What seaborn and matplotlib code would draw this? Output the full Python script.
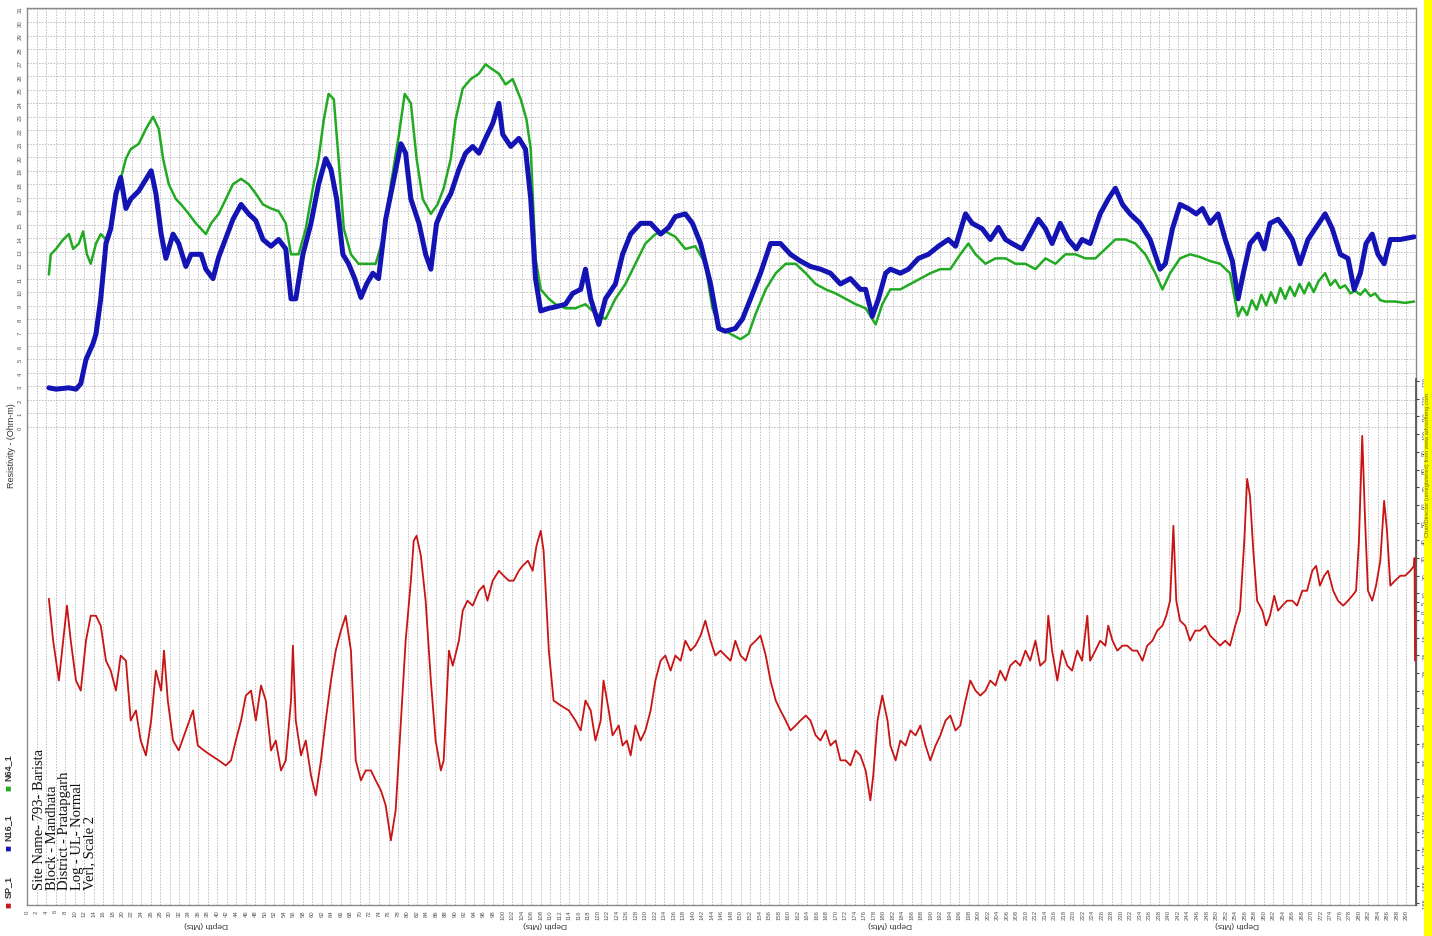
import matplotlib
matplotlib.use("Agg")
import matplotlib.pyplot as plt
from matplotlib.patches import Rectangle
import seaborn as sns
import pandas as pd

# ---------------- data ----------------
depth_n16 = [4.6, 6.1, 8.8, 10.3, 11.3, 12.4, 13.9, 14.5, 15.5, 16.6, 17.6, 18.7, 19.7, 20.8, 21.8, 23.5,
             26.1, 27.1, 28.2, 29.2, 30.7, 31.9, 33.4, 34.5, 36.6, 37.6, 39.1, 40.3, 41.8, 43.3, 45.0, 46.6,
             48.1, 49.6, 51.3, 52.9, 54.4, 55.5, 56.5, 58.0, 59.7, 61.3, 62.8, 63.9, 65.1, 66.4, 67.6, 68.9,
             70.2, 71.4, 72.7, 73.9, 75.4, 76.9, 78.6, 79.6, 80.7, 82.4, 83.8, 84.9, 86.1, 87.4, 89.1, 90.8,
             92.2, 93.7, 95.0, 96.4, 97.9, 99.2, 100.0, 101.7, 103.4, 104.8, 105.9, 106.9, 108.0, 109.7,
             111.1, 113.2, 114.7, 116.4, 117.4, 118.5, 120.2, 121.6, 123.7, 125.2, 126.9, 129.0, 131.1,
             133.2, 134.9, 136.3, 138.4, 139.9, 141.6, 143.7, 145.4, 146.8, 148.9, 150.4, 152.1, 154.2,
             156.3, 158.4, 160.5, 162.6, 164.7, 166.8, 168.9, 171.0, 173.1, 175.2, 176.3, 177.7, 179.0,
             180.5, 181.5, 183.6, 185.3, 187.4, 189.5, 191.6, 193.7, 195.2, 197.3, 198.7, 200.8, 202.5,
             204.2, 205.7, 207.1, 209.2, 210.9, 212.6, 214.1, 215.5, 217.2, 218.9, 220.6, 221.8, 223.5,
             225.6, 227.3, 228.8, 230.3, 231.9, 234.0, 236.1, 238.2, 239.3, 240.8, 242.4, 244.1, 245.8,
             247.1, 248.7, 250.4, 251.9, 253.4, 254.6, 255.7, 257.1, 258.8, 260.1, 261.3, 263.0, 264.5,
             266.0, 267.6, 269.3, 270.8, 272.9, 274.4, 276.1, 277.7, 279.0, 280.3, 281.5, 282.8, 284.0,
             285.3, 286.6, 288.7, 291.6]
res_n16 = [2.9, 2.8, 2.9, 2.8, 3.2, 5.0, 6.2, 6.9, 9.5, 13.6, 14.7, 17.3, 18.5, 16.2, 16.9, 17.5,
           19.0, 17.3, 14.3, 12.5, 14.3, 13.6, 11.9, 12.8, 12.8, 11.7, 11.0, 12.6, 14.0, 15.4, 16.5, 15.8,
           15.3, 13.9, 13.4, 13.9, 13.2, 9.5, 9.5, 12.8, 15.1, 18.0, 19.9, 19.1, 16.9, 12.8, 12.1, 11.0,
           9.6, 10.6, 11.4, 11.0, 15.4, 18.0, 21.0, 20.3, 16.9, 15.1, 12.8, 11.7, 15.1, 16.2, 17.3, 19.1,
           20.3, 20.8, 20.3, 21.4, 22.5, 24.0, 21.7, 20.8, 21.4, 20.6, 16.9, 11.0, 8.6, 8.8,
           8.9, 9.1, 9.9, 10.2, 11.7, 9.5, 7.6, 9.5, 10.6, 12.8, 14.3, 15.1, 15.1,
           14.3, 14.8, 15.6, 15.8, 15.1, 13.6, 10.6, 7.3, 7.1, 7.3, 8.0, 9.5, 11.4,
           13.6, 13.6, 12.8, 12.3, 11.9, 11.7, 11.4, 10.6, 11.0, 10.2, 10.2, 8.2, 9.5,
           11.4, 11.7, 11.4, 11.7, 12.5, 12.8, 13.4, 13.9, 13.4, 15.8, 15.1, 14.7, 13.9,
           14.8, 13.9, 13.6, 13.2, 14.3, 15.4, 14.7, 13.6, 15.1, 13.9, 13.2, 13.9, 13.6,
           15.8, 16.9, 17.7, 16.5, 15.8, 15.1, 13.9, 11.7, 12.1, 14.7, 16.5, 16.2, 15.8,
           16.2, 15.1, 15.8, 13.9, 12.3, 9.5, 11.4, 13.6, 14.3, 13.2, 15.1, 15.4, 14.7,
           13.9, 12.1, 13.9, 14.7, 15.8, 14.7, 12.8, 12.5, 10.2, 11.4, 13.6, 14.3, 12.8,
           12.1, 13.9, 13.9, 14.1]

depth_n64 = [4.6, 5.0, 6.1, 7.6, 8.8, 9.7, 10.9, 11.8, 12.6, 13.4, 14.5, 15.5, 16.6, 17.6, 18.7, 19.7,
             20.8, 21.8, 23.5, 25.0, 26.5, 27.7, 28.6, 29.8, 31.3, 32.4, 34.0, 35.5, 37.6, 38.7, 40.3,
             41.8, 43.3, 45.0, 46.6, 48.1, 49.6, 51.3, 52.9, 54.4, 55.5, 57.1, 58.6, 60.1, 61.3, 62.4,
             63.4, 64.5, 65.5, 66.6, 68.1, 69.7, 71.4, 73.3, 74.8, 76.5, 78.2, 79.4, 80.7, 81.9, 83.2,
             84.9, 86.3, 87.6, 89.1, 90.1, 91.6, 93.3, 95.0, 96.4, 97.5, 99.2, 100.6, 102.1, 103.8,
             105.0, 105.9, 106.9, 108.0, 109.7, 111.1, 113.2, 115.3, 117.4, 119.5, 121.6, 123.7, 125.8,
             127.9, 130.0, 132.1, 134.2, 136.3, 138.4, 140.5, 142.6, 144.1, 145.8, 147.9, 150.0, 151.7,
             153.2, 155.3, 157.4, 159.5, 161.6, 163.7, 165.8, 167.9, 170.0, 172.1, 174.2, 176.3, 178.4,
             179.8, 181.5, 183.6, 185.7, 187.8, 189.9, 192.0, 194.1, 196.2, 197.9, 199.4, 201.5, 203.6,
             205.7, 207.8, 209.9, 212.0, 214.1, 216.2, 218.3, 220.4, 222.5, 224.6, 226.7, 228.8, 230.9,
             233.0, 235.1, 237.2, 238.7, 240.3, 242.4, 244.5, 246.6, 248.7, 250.8, 252.9, 254.6, 255.5,
             256.5, 257.5, 258.5, 259.5, 260.5, 261.5, 262.5, 263.5, 264.5, 265.5, 266.5, 267.5, 268.5,
             269.5, 270.5, 271.5, 272.9, 274.0, 275.0, 276.0, 277.1, 278.2, 279.2, 280.3, 281.3, 282.4,
             283.4, 284.5, 285.5, 287.6, 289.7, 291.6]
res_n64 = [11.3, 12.8, 13.2, 13.9, 14.3, 13.2, 13.6, 14.5, 12.8, 12.1, 13.6, 14.3, 13.9, 14.8, 16.9, 18.4,
           19.9, 20.6, 21.0, 22.1, 23.0, 22.1, 19.9, 18.0, 16.9, 16.5, 15.8, 15.1, 14.3, 15.1, 15.8,
           16.9, 18.0, 18.4, 18.0, 17.3, 16.5, 16.2, 16.0, 15.1, 12.8, 12.8, 14.7, 17.7, 19.9, 22.8,
           24.7, 24.3, 19.9, 14.7, 12.8, 12.1, 12.1, 12.1, 13.9, 18.0, 21.7, 24.7, 24.0, 19.9, 16.9,
           15.8, 16.5, 17.7, 19.9, 22.8, 25.1, 25.8, 26.2, 26.9, 26.6, 26.2, 25.4, 25.8, 24.3,
           22.8, 20.6, 12.5, 10.2, 9.5, 9.1, 8.8, 8.8, 9.1, 8.4, 8.0, 9.5, 10.6,
           12.1, 13.6, 14.3, 14.5, 14.1, 13.2, 13.4, 12.1, 8.8, 7.3, 6.9, 6.5, 6.9,
           8.4, 10.2, 11.4, 12.1, 12.1, 11.4, 10.6, 10.2, 9.9, 9.5, 9.1, 8.8, 7.6,
           9.1, 10.2, 10.2, 10.6, 11.0, 11.4, 11.7, 11.7, 12.8, 13.6, 12.8, 12.1, 12.5,
           12.5, 12.1, 12.1, 11.7, 12.5, 12.1, 12.8, 12.8, 12.5, 12.5, 13.2, 13.9, 13.9,
           13.6, 12.8, 11.4, 10.2, 11.4, 12.5, 12.8, 12.6, 12.3, 12.1, 11.4, 8.2, 8.9,
           8.3, 9.4, 8.7, 9.8, 9.0, 10.0, 9.2, 10.3, 9.5, 10.4, 9.7, 10.6, 9.9,
           10.7, 10.0, 10.8, 11.4, 10.5, 10.9, 10.3, 10.5, 9.9, 10.1, 9.8, 10.2, 9.7,
           9.9, 9.4, 9.3, 9.3, 9.2, 9.3]

depth_sp = [4.6, 5.5, 6.7, 7.6, 8.4, 9.2, 10.3, 11.3, 12.4, 13.4, 14.5, 15.5, 16.6, 17.6, 18.7, 19.7,
            20.8, 21.8, 22.9, 23.9, 25.0, 26.1, 27.1, 28.2, 28.8, 29.6, 30.7, 31.9, 33.4, 34.9, 35.9,
            37.2, 38.7, 40.3, 41.8, 42.9, 43.9, 45.0, 46.0, 47.1, 48.1, 49.2, 50.2, 51.3, 52.3, 53.4,
            54.4, 55.5, 55.9, 56.5, 57.6, 58.6, 59.7, 60.7, 61.8, 62.8, 63.9, 64.9, 66.0, 67.0, 68.1,
            69.1, 70.2, 71.2, 72.3, 73.3, 74.4, 75.4, 76.5, 77.5, 78.6, 79.6, 80.7, 81.3, 81.9, 82.8,
            83.8, 84.9, 85.9, 87.0, 87.6, 88.7, 89.5, 90.8, 91.6, 92.6, 93.7, 95.0, 96.0, 96.8, 97.9,
            99.2, 100.2, 101.3, 102.3, 103.4, 104.2, 105.3, 106.3, 107.1, 108.0, 108.6, 109.7, 110.7,
            112.2, 113.9, 115.3, 116.4, 117.4, 118.5, 119.5, 120.6, 121.2, 122.3, 123.1, 124.4, 125.2,
            126.1, 126.9, 127.9, 129.0, 130.0, 131.1, 132.1, 133.2, 134.2, 135.3, 136.3, 137.4, 138.4,
            139.5, 140.5, 141.6, 142.6, 143.7, 144.7, 145.8, 146.8, 147.9, 148.9, 150.0, 151.1, 152.1,
            153.2, 154.2, 155.3, 156.3, 157.4, 158.4, 159.5, 160.5, 161.6, 162.6, 163.7, 164.7, 165.8,
            166.8, 167.9, 168.9, 170.0, 171.0, 172.1, 173.1, 174.2, 175.2, 176.3, 177.3, 177.9, 178.8,
            179.8, 180.9, 181.5, 182.6, 183.6, 184.7, 185.7, 186.8, 187.8, 188.9, 189.9, 191.0, 192.0,
            193.1, 194.1, 195.2, 196.2, 197.3, 198.3, 199.4, 200.4, 201.5, 202.5, 203.6, 204.6, 205.7,
            206.7, 207.8, 208.8, 209.9, 210.9, 212.0, 213.0, 214.1, 214.7, 215.5, 216.6, 217.6, 218.7,
            219.7, 220.8, 221.8, 222.9, 223.5, 224.6, 225.6, 226.7, 227.3, 228.2, 229.2, 230.3, 231.3,
            232.4, 233.4, 234.5, 235.5, 236.6, 237.6, 238.7, 239.5, 240.3, 241.0, 241.6, 242.4, 243.5,
            244.5, 245.6, 246.6, 247.7, 248.7, 249.8, 250.8, 251.9, 252.9, 254.0, 255.0, 255.9, 256.5,
            257.1, 257.8, 258.6, 259.7, 260.5, 261.3, 262.2, 263.0, 263.9, 264.9, 266.0, 267.0, 268.1,
            269.1, 270.2, 271.0, 271.8, 272.7, 273.5, 274.6, 275.6, 276.7, 277.7, 278.6, 279.4, 280.0,
            280.7, 281.3, 281.9, 282.8, 283.6, 284.5, 285.3, 285.9, 286.6, 287.6, 288.7, 289.7, 290.8,
            291.6, 291.7, 291.8]
sp_vals = [7.0, -16.7, -39.2, -16.7, 3.1, -16.7, -39.2, -44.9, -16.7, -2.6, -2.6, -8.2, -28.0, -33.6, -44.9, -25.1,
           -28.0, -61.8, -56.1, -73.1, -81.5, -61.8, -33.6, -44.9, -22.3, -50.5, -73.1, -78.7, -67.4, -56.1, -75.9,
           -78.7, -81.5, -84.3, -87.2, -84.3, -73.1, -61.8, -47.7, -44.9, -61.8, -42.0, -50.5, -78.7, -73.1, -90.0,
           -84.3, -50.5, -19.5, -61.8, -81.5, -73.1, -92.8, -104.1, -84.3, -61.8, -39.2, -22.3, -11.0, -2.6, -22.3,
           -84.3, -95.6, -90.0, -90.0, -95.6, -101.3, -109.7, -129.5, -112.5, -61.8, -16.7, 17.2, 39.7, 42.6, 31.3,
           5.9, -39.2, -73.1, -90.0, -84.3, -22.3, -30.8, -16.7, 0.3, 5.9, 3.1, 11.5, 14.4, 5.9, 17.2,
           22.8, 20.0, 17.2, 17.2, 22.8, 25.6, 28.5, 22.8, 36.9, 45.4, 34.1, -22.3, -50.5,
           -53.3, -56.1, -61.8, -67.4, -50.5, -56.1, -73.1, -61.8, -39.2, -56.1, -70.2, -64.6, -75.9,
           -73.1, -81.5, -64.6, -73.1, -67.4, -56.1, -39.2, -28.0, -25.1, -33.6, -25.1, -28.0, -16.7,
           -22.3, -19.5, -13.8, -5.4, -16.7, -25.1, -22.3, -25.1, -28.0, -16.7, -25.1, -28.0, -19.5,
           -16.7, -13.8, -25.1, -39.2, -50.5, -56.1, -61.8, -67.4, -64.6, -61.8, -59.0, -61.8, -70.2,
           -73.1, -67.4, -75.9, -73.1, -84.3, -84.3, -87.2, -78.7, -81.5, -90.0, -106.9, -92.8, -61.8,
           -47.7, -61.8, -75.9, -84.3, -73.1, -75.9, -67.4, -70.2, -64.6, -75.9, -84.3, -75.9, -70.2,
           -61.8, -59.0, -67.4, -64.6, -50.5, -39.2, -44.9, -47.7, -44.9, -39.2, -42.0, -33.6, -39.2,
           -30.8, -28.0, -30.8, -22.3, -28.0, -16.7, -30.8, -28.0, -2.6, -22.3, -39.2, -22.3, -30.8,
           -33.6, -22.3, -28.0, -2.6, -28.0, -22.3, -16.7, -19.5, -8.2, -16.7, -22.3, -19.5, -19.5,
           -22.3, -22.3, -28.0, -19.5, -16.7, -11.0, -8.2, -2.6, 5.9, 48.2, 5.9, -5.4, -8.2,
           -16.7, -11.0, -11.0, -8.2, -13.8, -16.7, -19.5, -16.7, -19.5, -8.2, 0.3, 39.7, 74.7,
           65.1, 34.1, 5.9, 0.3, -8.2, -2.6, 8.7, 0.3, 3.1, 5.9, 5.9, 3.1, 11.5,
           11.5, 22.8, 25.6, 14.4, 20.0, 22.8, 11.5, 5.9, 3.1, 5.9, 8.7, 11.5, 39.7,
           99.0, 51.0, 11.5, 5.9, 14.4, 28.5, 62.3, 45.4, 14.4, 17.2, 20.0, 20.0, 22.8,
           25.6, 30.0, -28.0]

res_ticks = list(range(0, 32))
depth_ticks = list(range(0, 292, 2))
sp_ticks = list(range(-165, 0, 10)) + [0, 5, 10] + list(range(20, 140, 10))
legend_names = ["SP_1", "N16_1", "N64_1"]
legend_colors = ["#c81414", "#1414b4", "#22aa22"]
site_lines = ["Site Name- 793- Barista", "Block - Mandhata", "District - Pratapgarh",
              "Log - UL- Normal", "Verl, Scale 2"]
depth_label_pos = [37.6, 109.0, 181.5, 254.4]

# ---------------- figure ----------------
sns.set_theme(style="white")
plt.rcParams['font.family'] = ['Liberation Sans', 'DejaVu Sans']

W, H = 1432, 937
fig = plt.figure(figsize=(W / 100, H / 100), dpi=100)
fig.patch.set_facecolor("white")
left, right, top, bottom = 27, 1416, 9, 906
ax = fig.add_axes([left / W, (H - bottom) / H, (right - left) / W, (bottom - top) / H])
ax.set_facecolor("white")

df16 = pd.DataFrame({"depth": depth_n16, "val": res_n16})
df64 = pd.DataFrame({"depth": depth_n64, "val": res_n64})
dfsp = pd.DataFrame({"depth": depth_sp, "val": sp_vals})

sns.lineplot(data=df64, x="depth", y="val", ax=ax, color=legend_colors[2], lw=1.8,
             estimator=None, sort=False, zorder=3)
sns.lineplot(data=df16, x="depth", y="val", ax=ax, color=legend_colors[1], lw=3.6,
             estimator=None, sort=False, zorder=4)

ax.set_xlim(0, 292)
ax.set_ylim(-35.46, 31.07)
ax.set_xticks(depth_ticks)
ax.set_xticklabels([str(t) for t in depth_ticks], rotation=90, fontsize=4.3, color="#555555")
ax.set_yticks(res_ticks)
ax.set_yticklabels([str(t) for t in res_ticks], rotation=90, fontsize=4.3, color="#555555",
                   va="center")
ax.tick_params(axis="both", length=0, pad=3)
ax.grid(True, color="#bdbdbd", linestyle=(0, (1.5, 1.5)), lw=0.7)
ax.set_axisbelow(True)
ax.set_xlabel("")
ax.set_ylabel("")
for s in ax.spines.values():
    s.set_color("#8a8a8a")
    s.set_linewidth(1.0)

ax2 = ax.twinx()
sns.lineplot(data=dfsp, x="depth", y="val", ax=ax2, color=legend_colors[0], lw=1.3,
             estimator=None, sort=False, zorder=5)
ax2.set_ylim(-166.0, 340.7)
ax2.set_yticks(sp_ticks)
ax2.set_yticklabels([str(t) for t in sp_ticks], rotation=90, fontsize=4.3, color="#555555",
                    va="center")
ax2.tick_params(axis="y", length=2.5, width=0.8, color="#444444", pad=2)
ax2.set_ylabel("")
ax2.set_xlabel("")
ax2.grid(False)
for name, s in ax2.spines.items():
    s.set_visible(name == "right")
ax2.spines["right"].set_color("#555555")
ax2.spines["right"].set_bounds(-166.0, 131)

# y label
fig.text(12 / W, 1 - 446 / H, "Resistivity - (Ohm-m)", rotation=90, fontsize=6.5,
         ha="center", va="center", color="#333333")

# depth labels (upside down)
for d in depth_label_pos:
    ax.text(d, -0.021, "Depth (Mts)", transform=ax.get_xaxis_transform(), rotation=180,
            fontsize=6, ha="center", va="center", color="#333333")

# legend (rotated)
leg_y = [905, 848, 788]
for name, col, yb in zip(legend_names, legend_colors, leg_y):
    fig.text(8 / W, 1 - yb / H, "■", color=col, fontsize=7, rotation=90,
             ha="center", va="center")
    fig.text(8 / W, 1 - (yb - 7) / H, name, color="#333333", fontsize=6.5, rotation=90,
             ha="center", va="bottom", fontweight="bold")

# site info block
fig.text(33 / W, 1 - 890 / H, "\n".join(site_lines), rotation=90, fontsize=10.5,
         family=["Liberation Serif", "DejaVu Serif"], ha="left", va="bottom",
         linespacing=0.95, color="#111111")

# ChartDirector strip
fig.add_artist(Rectangle((1424 / W, 0), 8 / W, 1, transform=fig.transFigure,
                         facecolor="#ffff00", edgecolor="none"))
fig.text(1428 / W, 1 - 465 / H, "ChartDirector (unregistered) from www.advsofteng.com",
         rotation=90, fontsize=4.2, ha="center", va="center", color="#666633")

fig.savefig("out.png", dpi=100)
